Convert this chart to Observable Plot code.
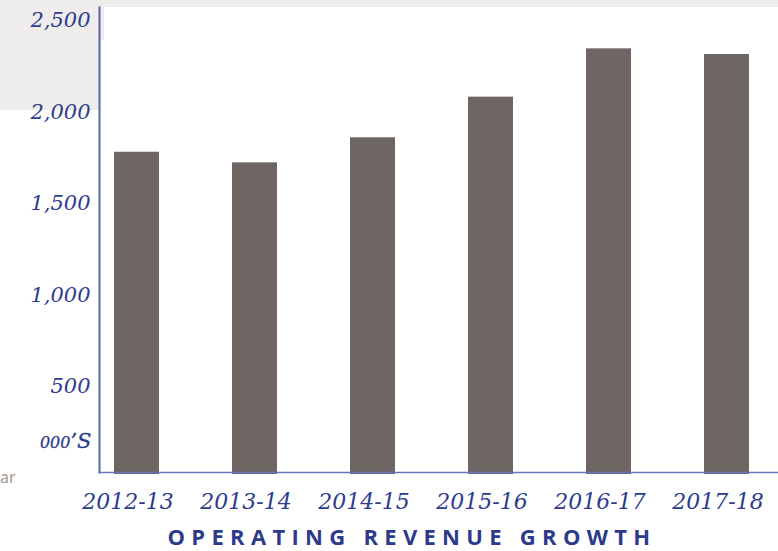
<!DOCTYPE html>
<html>
<head>
<meta charset="utf-8">
<script src="https://cdn.jsdelivr.net/npm/d3@7"></script>
<script src="https://cdn.jsdelivr.net/npm/@observablehq/plot@0.6"></script>
<style>
  html, body { margin: 0; padding: 0; background: #ffffff; }
  #wrap { position: relative; width: 778px; height: 551px; overflow: hidden; background: #ffffff; }
  .bg { position: absolute; background: #eeedeb; }
  #chart { position: absolute; left: 0; top: 0; }
  #title { position: absolute; top: 525px; left: 412px; transform: translateX(-50%);
    font-family: "Open Sans", "Noto Sans", sans-serif; font-weight: 700; font-size: 22px; line-height: 22px;
    letter-spacing: 6.3px; color: #2d3a8c; white-space: nowrap; }
  #side { position: absolute; left: 0px; top: 466px; font-family: "Noto Sans", sans-serif;
    font-size: 16px; color: #a5978a; }
</style>
</head>
<body>
<div id="wrap">
  <div class="bg" style="left:0;top:0;width:778px;height:7px;"></div>
  <div class="bg" style="left:0;top:0;width:100px;height:110px;"></div>
  <div class="bg" style="left:99px;top:0;width:5px;height:40px;"></div>
  <div id="chart"></div>
  <div id="side">ar</div>
  <div id="title">OPERATING REVENUE GROWTH</div>
</div>
<script>
const years = ["2012-13", "2013-14", "2014-15", "2015-16", "2016-17", "2017-18"];
const revenue = [1761, 1703, 1840, 2062, 2326, 2295];
const yTicks = [500, 1000, 1500, 2000, 2500];
const unitLabel = "000’S";

const data = years.map((year, i) => ({year, value: revenue[i]}));
const labelColor = "#2e3b8f";
const serif = "'DejaVu Serif', serif";

const chart = Plot.plot({
  width: 778,
  height: 510,
  marginLeft: 99,
  marginRight: 0,
  marginTop: 7,
  marginBottom: 38,
  style: {background: "transparent", color: labelColor, fontFamily: serif, fontStyle: "italic", overflow: "visible"},
  x: {domain: years, range: [113, 749], paddingInner: 0.62, paddingOuter: 0},
  y: {domain: [0, 2500], range: [474, 16.5]},
  marks: [
    Plot.barY(data, {x: "year", y: "value", fill: "#6d6663"}),
    Plot.frame({anchor: "left", stroke: "#5a63ad", strokeWidth: 2}),
    Plot.frame({anchor: "bottom", stroke: "#6a73b6", strokeWidth: 1.5}),
    Plot.axisY(yTicks, {tickSize: 0, tickPadding: 9, tickFormat: d3.format(","), fontSize: 21,
      fontStyle: "italic", fontFamily: serif, dy: 3.5, label: null, fill: labelColor,
      stroke: labelColor, strokeWidth: 0.3}),
    Plot.axisX({tickSize: 0, tickPadding: 21, fontSize: 22, fontStyle: "italic", fontFamily: serif,
      dx: -9, label: null, fill: labelColor, stroke: labelColor, strokeWidth: 0.3}),
    Plot.text([unitLabel], {frameAnchor: "bottom-left", dx: -8, dy: -25, textAnchor: "end",
      fontSize: 21, fontStyle: "italic", fontFamily: serif, fill: labelColor,
      stroke: labelColor, strokeWidth: 0.3})
  ]
});
document.getElementById("chart").appendChild(chart);

// render the unit label's zeros as small (old-style looking) figures
chart.querySelectorAll("text").forEach(t => {
  if (t.textContent === unitLabel) {
    t.innerHTML = '<tspan font-size="16">000</tspan>’S';
  }
});
</script>
</body>
</html>
